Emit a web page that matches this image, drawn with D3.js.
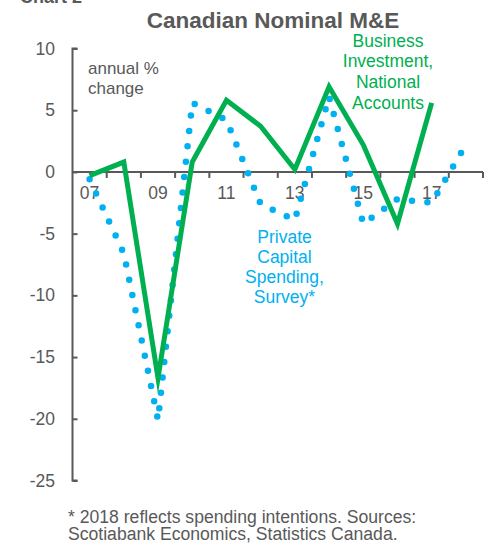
<!DOCTYPE html>
<html>
<head>
<meta charset="utf-8">
<script src="https://cdn.jsdelivr.net/npm/d3@7"></script>
<style>
  html, body { margin: 0; padding: 0; background: #fff; }
  svg { display: block; font-family: Arial, "Liberation Sans", sans-serif; }
</style>
</head>
<body>
<svg id="chart" width="492" height="546"></svg>
<script>
const years = [2007, 2008, 2009, 2010, 2011, 2012, 2013, 2014, 2015, 2016, 2017, 2018];
const labelYears = [2007, 2009, 2011, 2013, 2015, 2017];
const businessYears = [2007, 2008, 2009, 2010, 2011, 2012, 2013, 2014, 2015, 2016, 2017];
const businessInvestment = [-0.3, 0.8, -16.7, 0.8, 5.8, 3.7, 0.2, 6.9, 2.2, -4.2, 5.6];
const surveyYears = [2007, 2008, 2009, 2010, 2011, 2012, 2013, 2014, 2015, 2016, 2017, 2018];
const privateSpending = [-0.6, -6.6, -20.1, 5.6, 4.2, -2.6, -3.9, 6.1, -4.2, -2.2, -2.5, 2.2];
const yTicks = [10, 5, 0, -5, -10, -15, -20, -25];
const titleText = "Canadian Nominal M&E";
const unitLines = ["annual %", "change"];
const greenLabel = ["Business", "Investment,", "National", "Accounts"];
const blueLabel = ["Private", "Capital", "Spending,", "Survey*"];
const footLines = ["* 2018 reflects spending intentions. Sources:", "Scotiabank Economics, Statistics Canada."];

const gray = "#595959";
const green = "#00B050";
const blue = "#00B0F0";

const svg = d3.select("#chart");

const x = d3.scaleBand().domain(years).range([72.5, 483]).padding(0);
const y = d3.scaleLinear().domain([-25, 10]).range([480.5, 48.5]);
const cx = d => x(d) + x.bandwidth() / 2;

// partially visible chart number at top
svg.append("text").attr("x", 20).attr("y", 3)
  .attr("font-size", 18).attr("font-weight", "bold").attr("fill", gray).text("Chart 2");

// title
svg.append("text").attr("x", 273).attr("y", 27.5).attr("text-anchor", "middle")
  .attr("font-size", 22.5).attr("font-weight", "bold").attr("fill", gray).text(titleText);

// y axis
const yAxis = d3.axisRight(y).tickValues(yTicks).tickSize(5).tickFormat("");
const gy = svg.append("g").attr("transform", `translate(${x.range()[0]},0)`).call(yAxis);
gy.select(".domain").attr("stroke", gray).attr("stroke-width", 2).attr("d", `M5,${y(10)}H0V${y(-25)}H5`);
gy.selectAll(".tick line").attr("stroke", gray).attr("stroke-width", 2);

svg.append("g").selectAll("text").data(yTicks).join("text")
  .attr("x", 55).attr("y", d => y(d)).attr("dy", "0.35em")
  .attr("text-anchor", "end").attr("font-size", 17.5).attr("fill", gray)
  .text(d => d);

// x axis at zero
const boundaries = years.map(d => x(d)).concat([x.range()[1]]);
const gx = svg.append("g");
gx.append("line").attr("x1", x.range()[0]).attr("x2", x.range()[1])
  .attr("y1", y(0)).attr("y2", y(0)).attr("stroke", gray).attr("stroke-width", 2);
gx.selectAll("line.tk").data(boundaries.slice(1)).join("line").attr("class", "tk")
  .attr("x1", d => d).attr("x2", d => d).attr("y1", y(0)).attr("y2", y(0) + 6)
  .attr("stroke", gray).attr("stroke-width", 2);
gx.selectAll("text").data(labelYears).join("text")
  .attr("x", d => cx(d)).attr("y", y(0) + 27)
  .attr("text-anchor", "middle").attr("font-size", 17.5).attr("fill", gray)
  .text(d => String(d).slice(2));

// blue dotted line (survey)
const blueLine = d3.line().x((d, i) => cx(surveyYears[i])).y(d => y(d));
svg.append("path").attr("d", blueLine(privateSpending))
  .attr("fill", "none").attr("stroke", blue).attr("stroke-width", 6.5)
  .attr("stroke-linecap", "round").attr("stroke-dasharray", "0 15.5");

// green line (national accounts)
const greenLine = d3.line().x((d, i) => cx(businessYears[i])).y(d => y(d));
svg.append("path").attr("d", greenLine(businessInvestment))
  .attr("fill", "none").attr("stroke", green).attr("stroke-width", 5)
  .attr("stroke-linejoin", "miter").attr("stroke-miterlimit", 10);

// annotations
svg.append("g").selectAll("text").data(unitLines).join("text")
  .attr("x", 88).attr("y", (d, i) => 74 + i * 19.5)
  .attr("font-size", 17).attr("fill", gray).text(d => d);

svg.append("g").selectAll("text").data(greenLabel).join("text")
  .attr("x", 388).attr("y", (d, i) => 46.7 + i * 20.6)
  .attr("text-anchor", "middle").attr("font-size", 17.5).attr("fill", green).text(d => d);

svg.append("g").selectAll("text").data(blueLabel).join("text")
  .attr("x", 284.5).attr("y", (d, i) => 243.3 + i * 20)
  .attr("text-anchor", "middle").attr("font-size", 17.5).attr("fill", blue).text(d => d);

svg.append("g").selectAll("text").data(footLines).join("text")
  .attr("x", 68).attr("y", (d, i) => 522.8 + i * 16.8)
  .attr("font-size", 17.6).attr("fill", gray).text(d => d);
</script>
</body>
</html>
